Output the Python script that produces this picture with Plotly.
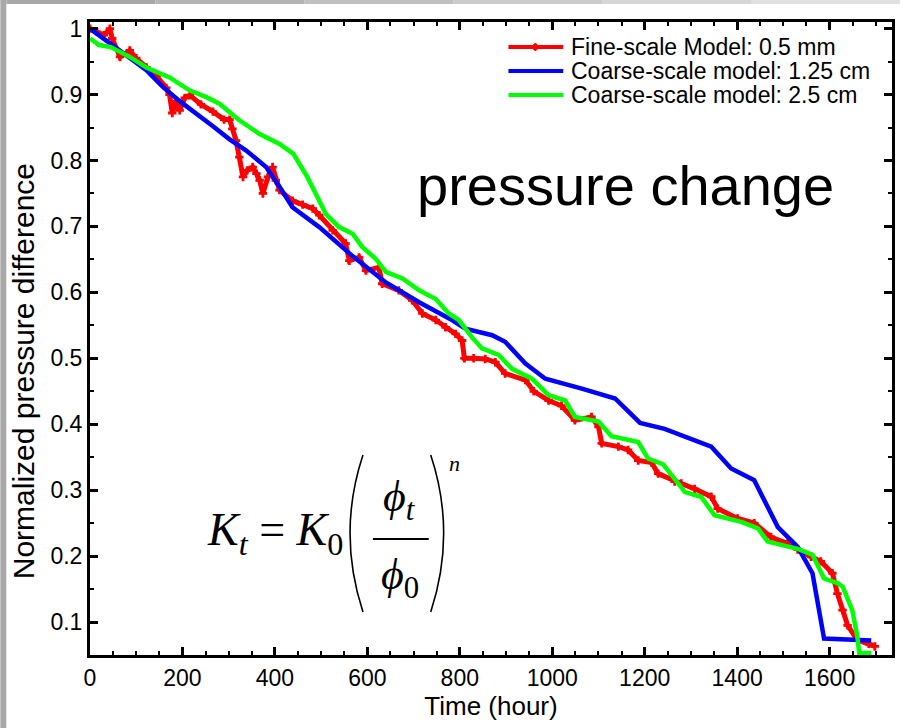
import plotly.graph_objects as go

# ---- data -------------------------------------------------------------
fine_t = [0, 15, 30, 43, 48, 65, 86, 100, 122, 144, 165, 172, 178, 186, 194, 205,
          216, 240, 266, 290, 302, 308, 316, 323, 331, 340, 352, 360, 367, 374,
          385, 395, 402, 410, 438, 460, 482, 496, 525, 553, 561, 582, 597, 625,
          632, 668, 697, 719, 748, 769, 791, 805, 810, 830, 855, 877, 898, 942,
          960, 992, 1020, 1049, 1085, 1100, 1107, 1143, 1164, 1186, 1215, 1229,
          1265, 1279, 1308, 1344, 1358, 1401, 1437, 1473, 1509, 1531, 1560, 1581,
          1606, 1617, 1628, 1639, 1660, 1685, 1698]
fine_p = [1.0, 0.995, 0.99, 1.0, 0.985, 0.957, 0.967, 0.955, 0.941, 0.928, 0.91,
          0.90, 0.872, 0.89, 0.876, 0.895, 0.899, 0.885, 0.874, 0.862, 0.862,
          0.848, 0.83, 0.805, 0.775, 0.785, 0.79, 0.78, 0.77, 0.75, 0.775, 0.79,
          0.77, 0.755, 0.739, 0.733, 0.727, 0.717, 0.694, 0.674, 0.648, 0.653,
          0.633, 0.638, 0.613, 0.603, 0.588, 0.568, 0.558, 0.547, 0.537, 0.527,
          0.50, 0.50, 0.499, 0.494, 0.477, 0.467, 0.45, 0.436, 0.428, 0.406,
          0.411, 0.396, 0.371, 0.366, 0.361, 0.345, 0.342, 0.325, 0.313, 0.31,
          0.302, 0.29, 0.272, 0.257, 0.25, 0.229, 0.219, 0.21, 0.199, 0.192,
          0.174, 0.143, 0.118, 0.095, 0.073, 0.067, 0.063]

coarse1_t = [0, 50, 122, 157, 194, 266, 302, 338, 381, 410, 438, 496, 568, 640,
             712, 783, 812, 870, 898, 942, 985, 1064, 1136, 1190, 1243, 1344,
             1387, 1437, 1488, 1531, 1563, 1588, 1690]
coarse1_p = [1.0, 0.975, 0.937, 0.912, 0.89, 0.852, 0.832, 0.815, 0.79, 0.76,
             0.729, 0.699, 0.655, 0.615, 0.585, 0.558, 0.545, 0.535, 0.525,
             0.492, 0.469, 0.454, 0.439, 0.402, 0.393, 0.366, 0.333, 0.315,
             0.244, 0.214, 0.174, 0.075, 0.072]

coarse2_t = [0, 20, 45, 86, 122, 172, 216, 252, 280, 323, 367, 410, 440, 470, 496,
             510, 539, 568, 589, 618, 640, 676, 712, 748, 776, 798, 826, 848, 884,
             913, 956, 992, 1028, 1049, 1100, 1128, 1186, 1207, 1240, 1287, 1322,
             1351, 1409, 1445, 1466, 1509, 1531, 1563, 1588, 1617, 1628, 1649,
             1660, 1664, 1690]
coarse2_p = [0.985, 0.975, 0.972, 0.957, 0.941, 0.926, 0.906, 0.896, 0.886, 0.861,
             0.84, 0.825, 0.81, 0.775, 0.739, 0.719, 0.699, 0.689, 0.669, 0.651,
             0.631, 0.621, 0.603, 0.59, 0.568, 0.558, 0.532, 0.515, 0.505, 0.484,
             0.469, 0.444, 0.436, 0.411, 0.404, 0.382, 0.373, 0.348, 0.339, 0.297,
             0.29, 0.262, 0.252, 0.242, 0.222, 0.214, 0.211, 0.202, 0.166, 0.159,
             0.154, 0.118, 0.078, 0.053, 0.053]

series_names = ["Fine-scale Model: 0.5 mm", "Coarse-scale model: 1.25 cm",
                "Coarse-scale model: 2.5 cm"]
series_colors = ["#ff0000", "#0000ff", "#00ff00"]

x_ticks = [0, 200, 400, 600, 800, 1000, 1200, 1400, 1600]
y_ticks = [0.1, 0.2, 0.3, 0.4, 0.5, 0.6, 0.7, 0.8, 0.9, 1.0]
y_tick_text = ["0.1", "0.2", "0.3", "0.4", "0.5", "0.6", "0.7", "0.8", "0.9", "1"]

# ---- figure geometry (pixels) ------------------------------------------
W, H = 903, 728
PL, PR, PT, PB = 90, 895, 22, 655
SANS = "Liberation Sans, Arial, Helvetica, sans-serif"
SERIF = "Liberation Serif, Times New Roman, DejaVu Serif, serif"


def px(x):
    return (x - PL) / (PR - PL)


def py(y):
    return (PB - y) / (PB - PT)


fig = go.Figure()
fig.add_trace(go.Scatter(x=fine_t, y=fine_p, mode="lines+markers",
                         line=dict(color=series_colors[0], width=5),
                         marker=dict(symbol="cross", size=7, color=series_colors[0]),
                         name=series_names[0], showlegend=False))
fig.add_trace(go.Scatter(x=coarse1_t, y=coarse1_p, mode="lines",
                         line=dict(color=series_colors[1], width=4.5),
                         name=series_names[1], showlegend=False))
fig.add_trace(go.Scatter(x=coarse2_t, y=coarse2_p, mode="lines",
                         line=dict(color=series_colors[2], width=4.5),
                         name=series_names[2], showlegend=False))

shapes = []
annotations = []

# legend block, top right inside the axes
for i, (name, col) in enumerate(zip(series_names, series_colors)):
    yy = 47 + 24 * i
    shapes.append(dict(type="line", xref="paper", yref="paper",
                       x0=px(510), x1=px(565), y0=py(yy), y1=py(yy),
                       line=dict(color=col, width=4)))
    annotations.append(dict(xref="paper", yref="paper", x=px(571), y=py(yy),
                            xanchor="left", yanchor="middle", showarrow=False,
                            text=name, font=dict(family=SANS, size=23, color="#000")))
shapes.append(dict(type="path", xref="paper", yref="paper",
                   path=f"M {px(533)},{py(47)} L {px(537)},{py(43)} L {px(541)},{py(47)} "
                        f"L {px(537)},{py(51)} Z",
                   fillcolor="#ff0000", line=dict(color="#ff0000", width=1)))

# large caption
annotations.append(dict(xref="paper", yref="paper", x=px(628), y=py(185),
                        xanchor="center", yanchor="middle", showarrow=False,
                        text="pressure change",
                        font=dict(family=SANS, size=56, color="#000")))

# permeability-porosity relation
annotations.append(dict(xref="paper", yref="paper", x=px(276), y=py(533),
                        xanchor="center", yanchor="middle", showarrow=False,
                        text="<i>K</i><sub><i>t</i></sub> = <i>K</i><sub>0</sub>",
                        font=dict(family=SERIF, size=46, color="#000")))
annotations.append(dict(xref="paper", yref="paper", x=px(401), y=py(500),
                        xanchor="center", yanchor="middle", showarrow=False,
                        text="<i>ϕ</i><sub><i>t</i></sub>",
                        font=dict(family=SERIF, size=44, color="#000")))
annotations.append(dict(xref="paper", yref="paper", x=px(401), y=py(577),
                        xanchor="center", yanchor="middle", showarrow=False,
                        text="<i>ϕ</i><sub>0</sub>",
                        font=dict(family=SERIF, size=44, color="#000")))
annotations.append(dict(xref="paper", yref="paper", x=px(456), y=py(463),
                        xanchor="center", yanchor="middle", showarrow=False,
                        text="<i>n</i>",
                        font=dict(family=SERIF, size=22, color="#000")))
shapes.append(dict(type="line", xref="paper", yref="paper",
                   x0=px(374), x1=px(430), y0=py(539), y1=py(539),
                   line=dict(color="#000", width=2)))
shapes.append(dict(type="path", xref="paper", yref="paper",
                   path=f"M {px(364)},{py(455)} Q {px(338)},{py(533)} {px(364)},{py(612)}",
                   line=dict(color="#000", width=1.6)))
shapes.append(dict(type="path", xref="paper", yref="paper",
                   path=f"M {px(432)},{py(455)} Q {px(458)},{py(533)} {px(432)},{py(612)}",
                   line=dict(color="#000", width=1.6)))

# y-axis title, placed as rotated text
annotations.append(dict(xref="paper", yref="paper", x=px(23), y=py(371),
                        xanchor="center", yanchor="middle", showarrow=False,
                        textangle=-90, text="Normalized pressure difference",
                        font=dict(family=SANS, size=30, color="#000")))

# grey frame around the page
shapes.append(dict(type="rect", xref="paper", yref="paper", layer="below",
                   x0=px(0), x1=px(6), y0=py(H), y1=py(0),
                   fillcolor="#a8a8a8", line=dict(width=0)))
top_cols = ["#a8a8a8", "#b4b4b4", "#c0c0c0", "#cbcbcb", "#d6d6d6", "#e0e0e0"]
for k, c in enumerate(top_cols):
    x0 = 6 + k * (W - 6) / len(top_cols)
    x1 = 6 + (k + 1) * (W - 6) / len(top_cols)
    shapes.append(dict(type="rect", xref="paper", yref="paper", layer="below",
                       x0=px(x0), x1=px(x1), y0=py(4), y1=py(0),
                       fillcolor=c, line=dict(width=0)))

axis_common = dict(showline=True, linecolor="#000", linewidth=3, mirror="ticks",
                   ticks="inside", ticklen=8, tickwidth=2.5, tickcolor="#000",
                   showgrid=False, zeroline=False,
                   tickfont=dict(family=SANS, size=23, color="#000"))

fig.update_layout(
    width=W, height=H,
    margin=dict(l=PL, r=W - PR, t=PT, b=H - PB),
    paper_bgcolor="#ffffff", plot_bgcolor="#ffffff",
    showlegend=False,
    shapes=shapes, annotations=annotations,
    xaxis=dict(range=[0, 1735], tickvals=x_ticks,
               ticktext=[str(v) for v in x_ticks],
               minor=dict(ticks="inside", ticklen=4, tickwidth=2, tickcolor="#000",
                          dtick=50, tick0=0, showgrid=False),
               title=dict(text="Time (hour)", standoff=3,
                          font=dict(family=SANS, size=26, color="#000")),
               **axis_common),
    yaxis=dict(range=[0.05, 1.01], tickvals=y_ticks, ticktext=y_tick_text,
               minor=dict(ticks="inside", ticklen=4, tickwidth=2, tickcolor="#000",
                          dtick=0.05, tick0=0, showgrid=False),
               **axis_common),
)

fig.write_html("out.html")
